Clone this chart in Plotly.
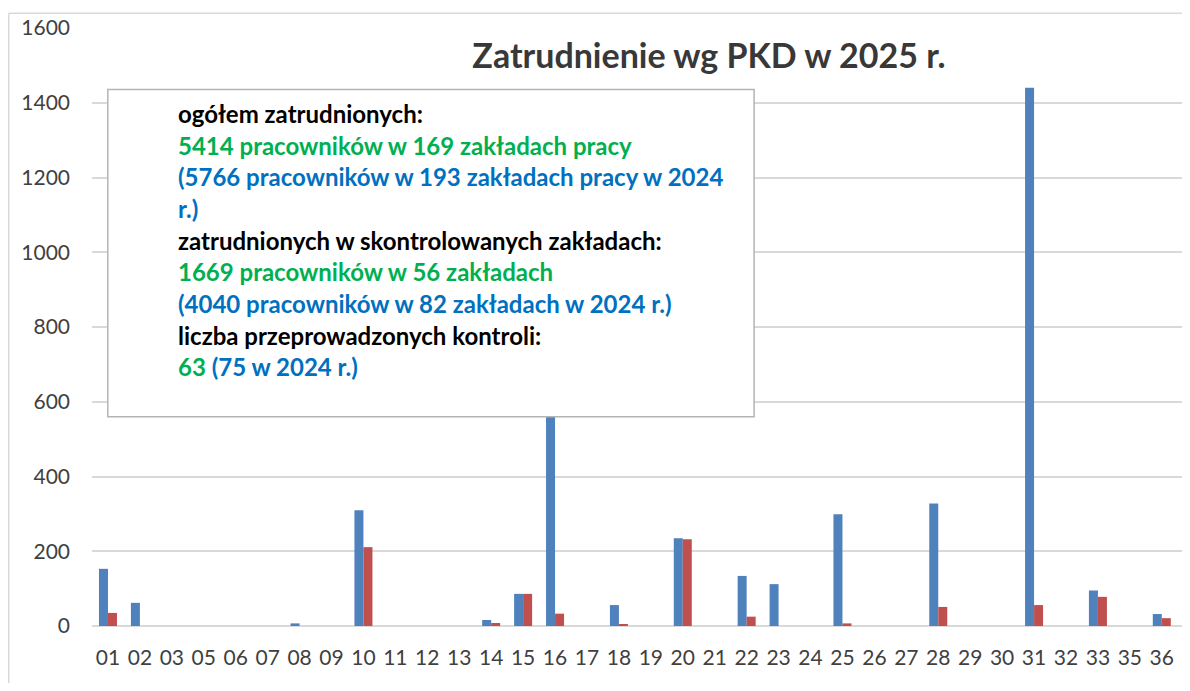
import plotly.graph_objects as go

# ---- data ----
categories = ["01", "02", "03", "05", "06", "07", "08", "09", "10", "11", "12", "13",
              "14", "15", "16", "17", "18", "19", "20", "21", "22", "23", "24", "25",
              "26", "27", "28", "29", "30", "31", "32", "33", "35", "36", "37"]
employed_total = [153, 62, 0, 0, 0, 0, 7, 0, 310, 0, 0, 0,
                  16, 86, 700, 0, 56, 0, 235, 0, 134, 112, 0, 299,
                  0, 0, 328, 0, 0, 1440, 0, 95, 0, 32, 0]
employed_inspected = [35, 0, 0, 0, 0, 0, 0, 0, 211, 0, 0, 0,
                      8, 86, 33, 0, 5, 0, 232, 0, 25, 0, 0, 7,
                      0, 0, 51, 0, 0, 56, 0, 78, 0, 21, 0]
y_ticks = [0, 200, 400, 600, 800, 1000, 1200, 1400, 1600]

title_text = "Zatrudnienie wg PKD w 2025 r."
box_lines = [
    [("ogółem zatrudnionych:", "#000000")],
    [("5414 pracowników w 169 zakładach pracy", "#00B050")],
    [("(5766 pracowników w 193 zakładach pracy w 2024", "#0070C0")],
    [("r.)", "#0070C0")],
    [("zatrudnionych w skontrolowanych zakładach:", "#000000")],
    [("1669 pracowników w 56 zakładach", "#00B050")],
    [("(4040 pracowników w 82 zakładach w 2024 r.)", "#0070C0")],
    [("liczba przeprowadzonych kontroli:", "#000000")],
    [("63", "#00B050"), (" (75 w 2024 r.)", "#0070C0")],
]

# ---- layout geometry (screen pixels; page body adds an 8px offset) ----
OFF = 8
W, H = 1190 - OFF, 691 - 2 * OFF
PL, PR, PT, PB = 91.8, 1187.0, 27.7, 626.0   # plot area on screen
CAT_W = 31.94                                 # pixel width of one category slot


def px_x(px):
    return (px - PL) / (PR - PL)


def px_y(py):
    return (PB - py) / (PB - PT)


FONT = "Lato, Carlito, 'Open Sans', sans-serif"
TEXT_SIZE = 24

fig = go.Figure()
fig.add_trace(go.Bar(x=categories, y=employed_total, name="ogółem",
                     marker=dict(color="#4F81BD", line=dict(width=0))))
fig.add_trace(go.Bar(x=categories, y=employed_inspected, name="skontrolowane",
                     marker=dict(color="#C0504D", line=dict(width=0))))

fig.update_layout(
    width=W, height=H,
    margin=dict(l=PL - OFF, r=1190 - PR, t=PT - OFF, b=(H + OFF) - PB, pad=0),
    paper_bgcolor="white", plot_bgcolor="white",
    barmode="group", bargap=0.436, bargroupgap=0,
    showlegend=False,
    font=dict(family=FONT, size=21, color="#404040"),
    title=dict(text=title_text, x=(709 - OFF) / W, xref="container", xanchor="center",
               y=1 - (56.2 - OFF) / H, yref="container", yanchor="middle",
               font=dict(family=FONT, size=34, color="#383838", weight="bold")),
)
fig.update_xaxes(type="category", categoryorder="array", categoryarray=categories,
                 range=[-0.5, (PR - PL) / CAT_W - 0.5],
                 showgrid=False, zeroline=False, showline=False, ticks="",
                 ticklabelstandoff=17,
                 tickfont=dict(family=FONT, size=21, color="#404040"))
fig.update_yaxes(range=[0, 1600], tickvals=y_ticks, showgrid=True,
                 gridcolor="#D9D9D9", gridwidth=1.6,
                 zeroline=True, zerolinecolor="#D9D9D9", zerolinewidth=1.6,
                 showline=False, ticks="", ticklabelstandoff=21,
                 tickfont=dict(family=FONT, size=21, color="#404040"))

# outer chart border (left and top edges visible in the crop)
fig.add_shape(type="line", xref="paper", yref="paper",
              x0=px_x(8.5), x1=px_x(1200), y0=px_y(13), y1=px_y(13),
              line=dict(color="#D9D9D9", width=1.5), layer="below")
fig.add_shape(type="line", xref="paper", yref="paper",
              x0=px_x(8.5), x1=px_x(8.5), y0=px_y(13), y1=px_y(700),
              line=dict(color="#D9D9D9", width=1.5), layer="below")

# info box
fig.add_shape(type="rect", xref="paper", yref="paper",
              x0=px_x(107.6), x1=px_x(754), y0=px_y(89.3), y1=px_y(416.7),
              fillcolor="white", line=dict(color="#B4B4B4", width=1.5), layer="above")

baseline0, step = 121.7, 31.66
for i, parts in enumerate(box_lines):
    txt = "".join(f"<span style='color:{c}'>{t}</span>" for t, c in parts)
    yc = baseline0 + i * step - 0.35 * TEXT_SIZE
    fig.add_annotation(xref="paper", yref="paper", x=px_x(175.8), y=px_y(yc),
                       xanchor="left", yanchor="middle", showarrow=False,
                       text=txt, align="left",
                       font=dict(family=FONT, size=TEXT_SIZE, color=parts[0][1], weight="bold"))

# partially visible last category label at the cropped right edge
last_idx = len(categories) - 1
label_left_px = PL + (last_idx + 0.5) * CAT_W - 14.5
fig.add_annotation(xref="paper", yref="paper",
                   x=px_x(label_left_px), y=px_y(658),
                   xanchor="left", yanchor="middle", showarrow=False,
                   text=categories[-1],
                   font=dict(family=FONT, size=21, color="#404040"))

fig.write_html("out.html")
